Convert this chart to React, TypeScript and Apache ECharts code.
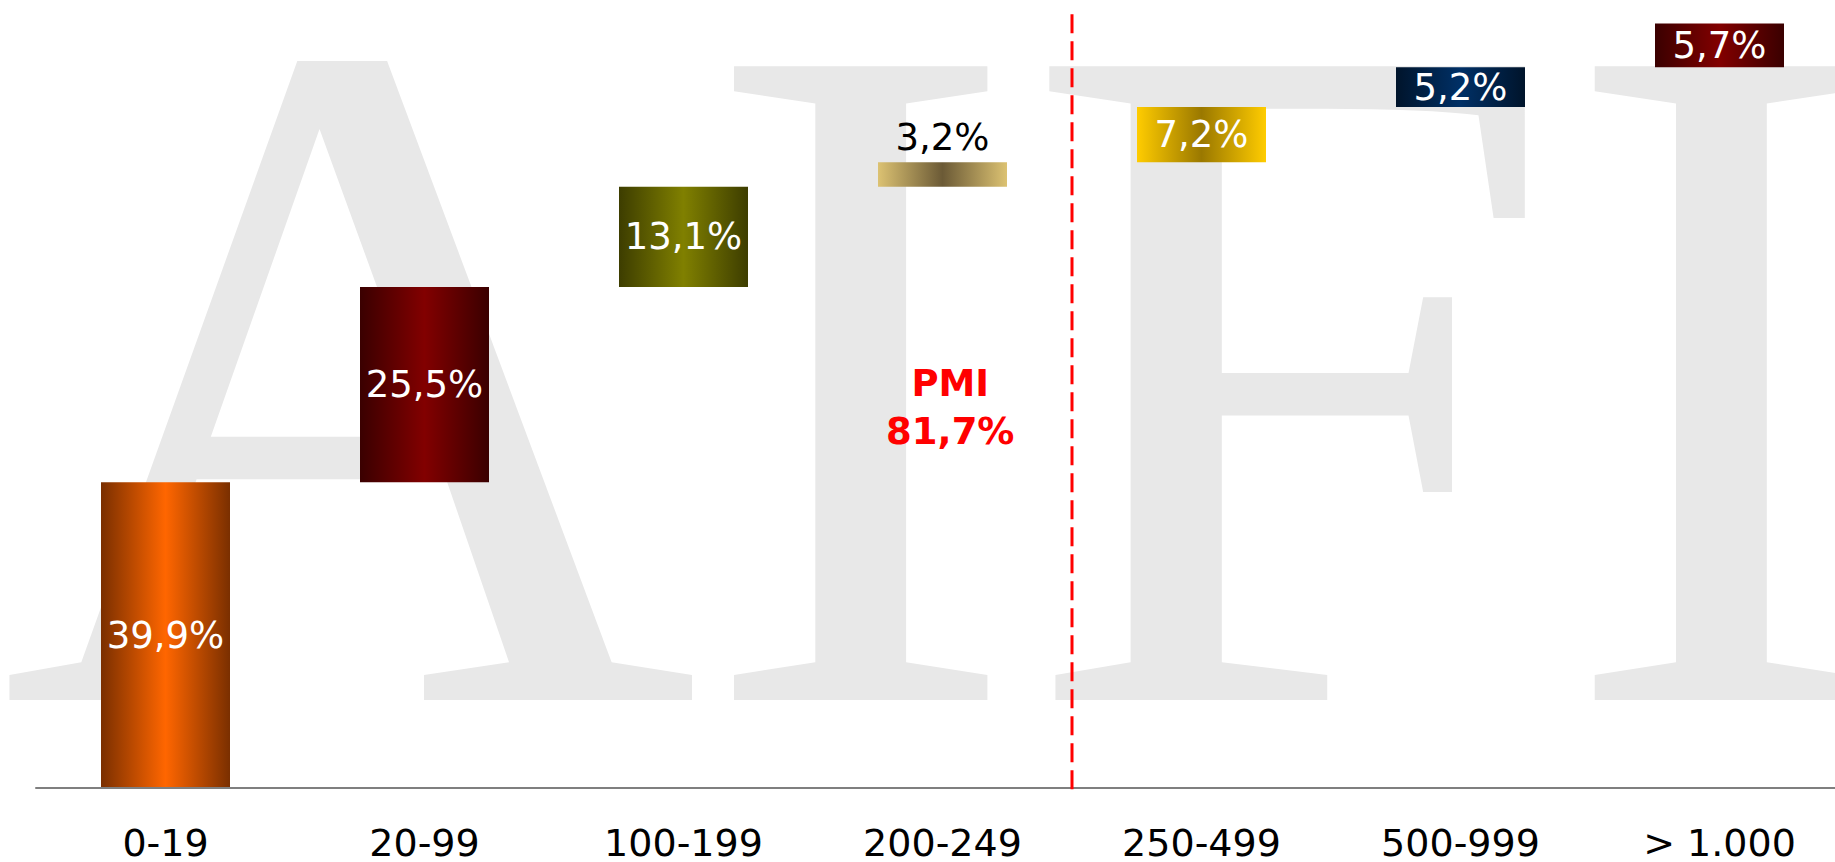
import React, { useEffect, useRef } from "react";
import * as echarts from "echarts";

const categories = ["0-19", "20-99", "100-199", "200-249", "250-499", "500-999", "> 1.000"];
const values = [39.9, 25.5, 13.1, 3.2, 7.2, 5.2, 5.7];
const edgeColors = ["#7a2f00", "#3a0000", "#3d3d00", "#dcc272", "#ffcc00", "#00142b", "#3a0000"];
const centerColors = ["#ff6600", "#820000", "#808000", "#6b5a36", "#9a7800", "#003066", "#820000"];
const labelColors = ["#ffffff", "#ffffff", "#ffffff", "#000000", "#ffffff", "#ffffff", "#ffffff"];
const labelInside = [true, true, true, false, true, true, true];
const pmiLabel = "PMI\n81,7%";
const pmiBoundary = 4;
const watermark = "AIFI";

export default function App() {
  const ref = useRef<HTMLDivElement>(null);
  useEffect(() => {
    document.body.style.margin = "0";
    document.body.style.overflow = "hidden";
    document.documentElement.style.overflow = "hidden";
    const chart = echarts.init(ref.current!, undefined, { renderer: "svg" });
    const bases: number[] = [];
    let acc = 0;
    values.forEach((v) => {
      bases.push(acc);
      acc += v;
    });
    const fmt = (v: number) => v.toFixed(1).replace(".", ",") + "%";
    const watermarkGraphic = {
      type: "text",
      x: 0,
      y: 373,
      z: -10,
      silent: true,
      style: {
        text: watermark,
        font: '968px "Liberation Serif"',
        fill: "#e8e8e8",
        textAlign: "left",
        textVerticalAlign: "middle",
      },
    };
    chart.setOption({
      animation: false,
      backgroundColor: "#ffffff",
      grid: { left: 36, right: 0, top: 22, bottom: 73, containLabel: false },
      xAxis: [
        {
          type: "category",
          data: categories,
          axisLine: { show: true, lineStyle: { color: "#7f7f7f", width: 2 } },
          axisTick: { show: false },
          axisLabel: {
            color: "#000000",
            fontFamily: '"DejaVu Sans"',
            fontSize: 38,
            margin: 36,
          },
          z: 5,
        },
        { type: "value", min: 0, max: 7, show: false },
      ],
      yAxis: { type: "value", min: 0, max: 100, show: false },
      graphic: [watermarkGraphic],
      series: [
        {
          type: "bar",
          stack: "w",
          data: bases,
          barWidth: 129,
          itemStyle: { color: "rgba(0,0,0,0)" },
          silent: true,
        },
        {
          type: "bar",
          stack: "w",
          barWidth: 129,
          data: values.map((v, i) => ({
            value: v,
            itemStyle: {
              color: {
                type: "linear",
                x: 0,
                y: 0,
                x2: 1,
                y2: 0,
                colorStops: [
                  { offset: 0, color: edgeColors[i] },
                  { offset: 0.5, color: centerColors[i] },
                  { offset: 1, color: edgeColors[i] },
                ],
              },
            },
            label: {
              show: true,
              position: labelInside[i] ? "inside" : "top",
              distance: 6,
              color: labelColors[i],
              formatter: fmt(v),
              fontFamily: '"DejaVu Sans"',
              fontSize: 37,
            },
          })),
        },
      ],
    });
    const xLine = chart.convertToPixel({ xAxisIndex: 1 }, pmiBoundary) as number;
    const yTop = chart.convertToPixel({ yAxisIndex: 0 }, 101) as number;
    const yBot = chart.convertToPixel({ yAxisIndex: 0 }, -1.2) as number;
    const xText = chart.convertToPixel({ xAxisIndex: 1 }, 3.53) as number;
    chart.setOption({
      graphic: [
        watermarkGraphic,
        {
          type: "line",
          z: 10,
          shape: { x1: xLine, y1: yTop, x2: xLine, y2: yBot },
          style: { stroke: "#ff0000", lineWidth: 3, lineDash: [19, 8] },
        },
        {
          type: "text",
          x: xText,
          y: 407,
          z: 10,
          style: {
            text: pmiLabel,
            font: 'bold 37px "DejaVu Sans"',
            fill: "#ff0000",
            textAlign: "center",
            textVerticalAlign: "middle",
            lineHeight: 48,
          },
        },
      ],
    });
    return () => chart.dispose();
  }, []);
  return (
    <div
      ref={ref}
      style={{ position: "absolute", left: 0, top: 0, width: 1849, height: 862 }}
    />
  );
}
